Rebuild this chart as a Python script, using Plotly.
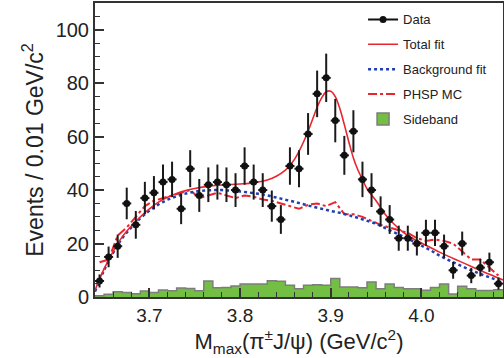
import numpy as np
import plotly.graph_objects as go

# ---------------- data ----------------
bin_centers = [round(3.645 + 0.01 * i, 3) for i in range(45)]
bin_edges = [round(3.64 + 0.01 * i, 2) for i in range(46)]

data_counts = [6, 15, 19, 35, 27, 37, 39, 43, 44, 33,
               48, 38, 42, 43, 42, 40, 49, 43, 40, 34,
               29, 49, 48, 61, 76, 82, 66, 53, 62, 44,
               40, 32, 29, 22, 22, 20, 24, 24, 19, 10,
               20, 8, 11, 13, 5]

sideband = [0.5, 1.0, 2.0, 1.7, 1.2, 2.2, 1.7, 2.6, 2.3, 3.4,
            3.2, 2.3, 6.0, 3.5, 3.6, 4.1, 4.9, 4.9, 4.9, 6.1,
            5.9, 4.4, 3.1, 4.4, 4.6, 4.4, 6.9, 3.7, 3.7, 3.5,
            5.6, 3.1, 4.9, 3.6, 3.1, 3.1, 2.5, 3.6, 4.9, 1.1,
            4.0, 3.1, 2.4, 2.4, 2.7]

phsp_mc = [13, 14, 23, 26, 30, 34, 36, 37, 38, 39,
           40, 37, 38, 39, 38, 37, 38, 37.5, 36.5, 36,
           35, 34, 33, 34.5, 35, 34, 35.5, 31, 31, 30,
           28.5, 27, 26, 25, 24, 22, 21, 21.5, 21, 20,
           17, 14, 14, 11, 8]

bkg_x = [3.64, 3.65, 3.66, 3.67, 3.68, 3.69, 3.70, 3.71, 3.72, 3.73,
         3.74, 3.75, 3.76, 3.77, 3.78, 3.79, 3.80, 3.81, 3.82, 3.83,
         3.84, 3.85, 3.86, 3.87, 3.88, 3.89, 3.90, 3.91, 3.92, 3.93,
         3.94, 3.95, 3.96, 3.97, 3.98, 3.99, 4.00, 4.01, 4.02, 4.03,
         4.04, 4.05, 4.06, 4.07, 4.08, 4.09]
bkg_y = [2.0, 10.0, 16.5, 22.0, 26.0, 29.5, 32.3, 34.6, 36.4, 37.7,
         38.7, 39.4, 39.8, 40.0, 40.0, 39.8, 39.5, 39.1, 38.6, 38.0,
         37.2, 36.4, 35.6, 34.7, 33.8, 33.0, 32.2, 31.5, 30.6, 29.6,
         28.5, 27.4, 25.8, 24.2, 22.6, 21.0, 19.2, 17.5, 15.5, 13.8,
         12.2, 10.7, 9.3, 8.0, 6.8, 5.7]

tot_x = [3.64, 3.65, 3.66, 3.67, 3.68, 3.69, 3.70, 3.71, 3.72, 3.73,
         3.74, 3.75, 3.76, 3.77, 3.78, 3.79, 3.80, 3.81, 3.82, 3.83,
         3.84, 3.85, 3.855, 3.86, 3.865, 3.87, 3.875, 3.88, 3.885, 3.89,
         3.895, 3.90, 3.905, 3.91, 3.915, 3.92, 3.925, 3.93, 3.935, 3.94,
         3.95, 3.96, 3.97, 3.98, 3.99, 4.00, 4.01, 4.02, 4.03, 4.04,
         4.05, 4.06, 4.07, 4.08, 4.09]
tot_y = [2.5, 10.5, 17.0, 22.5, 26.5, 30.0, 33.0, 35.5, 37.3, 38.7,
         39.8, 40.6, 41.2, 41.6, 41.9, 42.1, 42.3, 42.5, 43.0, 43.8,
         45.2, 47.5, 49.3, 51.5, 54.5, 58.0, 62.0, 66.5, 71.0, 74.5,
         76.8, 77.0, 75.0, 70.5, 64.5, 58.0, 52.0, 47.5, 44.0, 40.5,
         36.0, 31.0, 27.2, 24.2, 22.0, 20.2, 18.5, 16.8, 15.2, 13.7,
         12.2, 10.7, 9.2, 7.8, 6.4]

x_tick_vals = [3.7, 3.8, 3.9, 4.0]
x_tick_text = ["3.7", "3.8", "3.9", "4.0"]
y_tick_vals = [0, 20, 40, 60, 80, 100]
y_tick_text = ["0", "20", "40", "60", "80", "100"]

# ---------------- style ----------------
FONT = "Liberation Sans, Arial, Helvetica, sans-serif"
TXT = "#222222"
RED = "#e8262d"
BLUE = "#1f3fb0"
GREEN = "#72bf44"

fig = go.Figure()

# sideband histogram (outline with hv steps)
sb_y = sideband + [sideband[-1]]
fig.add_trace(go.Scatter(
    x=bin_edges, y=sb_y, mode="lines", line=dict(shape="hv", color="#7d7d7d", width=1.5),
    fill="tozeroy", fillcolor=GREEN, name="Sideband", showlegend=False))

# legend-only entry for sideband (box symbol)
fig.add_trace(go.Bar(
    x=[None], y=[None], marker=dict(color=GREEN, line=dict(color="#7d7d7d", width=1.5)),
    name="Sideband", legendgroup="e", legendrank=5))

fig.add_trace(go.Scatter(
    x=bin_centers, y=phsp_mc, mode="lines", line=dict(color=RED, width=2, dash="dashdot"),
    name="PHSP MC", legendgroup="d", legendrank=4))

fig.add_trace(go.Scatter(
    x=bkg_x, y=bkg_y, mode="lines", line=dict(color=BLUE, width=2.5, dash="dot", shape="spline"),
    name="Background fit", legendgroup="c", legendrank=3))

fig.add_trace(go.Scatter(
    x=tot_x, y=tot_y, mode="lines", line=dict(color=RED, width=1.6, shape="spline"),
    name="Total fit", legendgroup="b", legendrank=2))

err_y = [float(np.sqrt(v)) for v in data_counts]
fig.add_trace(go.Scatter(
    x=bin_centers, y=data_counts, mode="markers",
    marker=dict(color="#111111", size=7),
    error_y=dict(type="data", array=err_y, color="#1a1a1a", thickness=2, width=0),
    error_x=dict(type="constant", value=0.005, color="#1a1a1a", thickness=2, width=0),
    showlegend=False))

# legend entry for data (line + marker)
fig.add_trace(go.Scatter(
    x=[None], y=[None], mode="lines+markers",
    line=dict(color="#111111", width=2), marker=dict(color="#111111", size=7),
    name="Data", legendgroup="a", legendrank=1))

fig.update_layout(
    width=504, height=358,
    margin=dict(l=95, r=1, t=3, b=61, autoexpand=False),
    paper_bgcolor="white", plot_bgcolor="white",
    font=dict(family=FONT, color=TXT),
    legend=dict(x=0.657, xanchor="left", y=0.995, yanchor="top",
                font=dict(size=13, family=FONT, color=TXT),
                bgcolor="white", borderwidth=0, tracegroupgap=5,
                traceorder="grouped", itemwidth=30),
    xaxis=dict(range=[3.64, 4.09], tickmode="array", tickvals=x_tick_vals, ticktext=x_tick_text,
               ticks="inside", ticklen=9, tickwidth=1.5, tickcolor="#333",
               minor=dict(dtick=0.02, tick0=3.64, ticks="inside", ticklen=5, tickwidth=1.2, tickcolor="#333"),
               showline=True, linecolor="#333", linewidth=2, mirror=True,
               showgrid=False, zeroline=False, automargin=False,
               tickfont=dict(size=19, family=FONT, color=TXT),
               title=dict(text="M<sub>max</sub>(π<sup>±</sup>J/ψ) (GeV/c<sup>2</sup>)",
                          font=dict(size=22, family=FONT, color=TXT), standoff=2)),
    yaxis=dict(range=[0, 110], tickmode="array", tickvals=y_tick_vals, ticktext=y_tick_text,
               ticks="inside", ticklen=9, tickwidth=1.5, tickcolor="#333",
               minor=dict(dtick=5, tick0=0, ticks="inside", ticklen=5, tickwidth=1.2, tickcolor="#333"),
               showline=True, linecolor="#333", linewidth=2, mirror=True,
               showgrid=False, zeroline=False, automargin=False,
               tickfont=dict(size=20, family=FONT, color=TXT),
               title=dict(text="Events / 0.01 GeV/c<sup>2</sup>",
                          font=dict(size=23, family=FONT, color=TXT), standoff=6)),
)

fig.write_html("out.html", config={"displayModeBar": False},
               post_script="document.body.style.margin='0px';document.body.style.padding='0px';")
